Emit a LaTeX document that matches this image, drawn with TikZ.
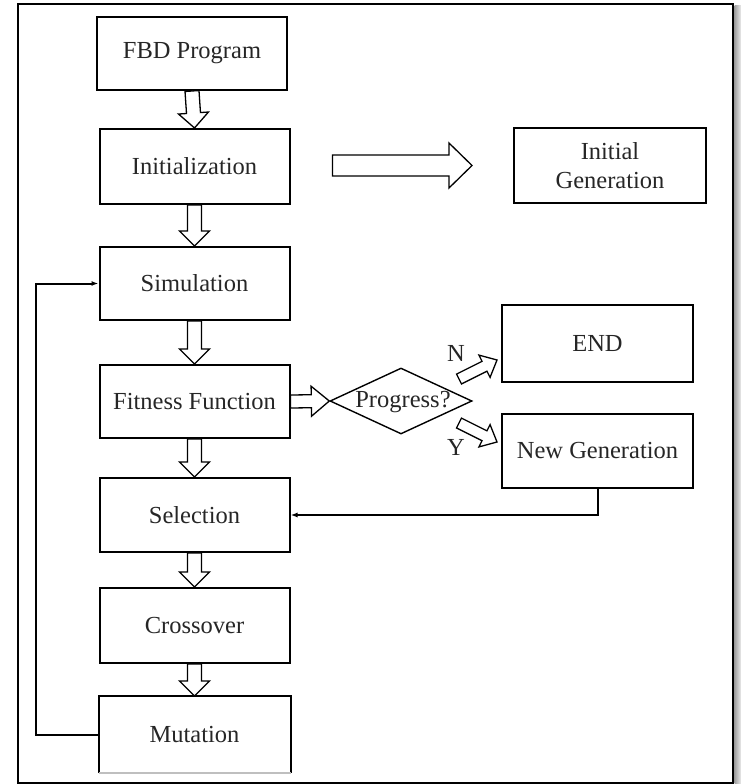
\documentclass[tikz,border=0pt]{standalone}
\usepackage{fontspec}
\setmainfont{Liberation Serif}
\usetikzlibrary{calc,shapes.geometric,arrows.meta}

% Hollow block arrow: tail, tip, shaft half-width, head half-width, head length
\newcommand\blockarrow[5]{%
  \coordinate (hb) at ($(#2)!#5!(#1)$);
  \draw[blockline] ($(#1)!#3!90:(#2)$) -- ($(hb)!#3!-90:(#1)$)
    -- ($(hb)!#4!-90:(#1)$) -- (#2) -- ($(hb)!#4!90:(#1)$)
    -- ($(hb)!#3!90:(#1)$) -- ($(#1)!#3!-90:(#2)$) -- cycle;}

\begin{document}
\begin{tikzpicture}[x=1pt,y=-1pt,
  every node/.style={font=\fontsize{24.5}{29}\selectfont, text=black!85},
  stepbox/.style={draw, line width=2pt, minimum width=190pt, minimum height=74pt,
    inner sep=0pt, align=center},
  blockline/.style={draw, fill=white, line width=1.3pt, line join=miter},
  link/.style={line width=2pt, -{Latex[length=7pt,width=5pt]}}]

\useasboundingbox (0,0) rectangle (741,784);

% drop shadow and frame
\shade[left color=gray!75, right color=gray!15] (734.5,6) rectangle (741,784);
\draw[line width=1.8pt] (18,4) rectangle (733,783);

% main column
\node[stepbox, minimum height=73pt] (fbd)  at (192,53.5)   {FBD Program};
\node[stepbox, minimum height=75pt] (init) at (194.5,166.5) {Initialization};
\node[stepbox, minimum height=73pt] (sim)  at (194.5,283.5) {Simulation};
\node[stepbox, minimum height=73pt] (fit)  at (194.5,401.5) {Fitness Function};
\node[stepbox] (sel)   at (194.5,515)   {Selection};
\node[stepbox, minimum height=75pt] (cross) at (194.5,625.5) {Crossover};
\node[stepbox, draw=none, minimum height=75pt] (mut) at (194.5,734.5) {Mutation};
\draw[line width=2pt] (mut.south west) -- (mut.north west) -- (mut.north east) -- (mut.south east);
\draw[line width=1.6pt, gray!50] (mut.south west) -- (mut.south east);

% right side
\node[stepbox, minimum width=192pt, minimum height=75pt] (initgen) at (610,165.5) {Initial\\Generation};
\node[stepbox, minimum width=191pt, minimum height=77pt] (endn) at (597.5,343.5) {END};
\node[stepbox, minimum width=191pt] (newgen) at (597.5,451) {New Generation};

% decision
\node[diamond, draw, line width=1.4pt, minimum width=142pt, minimum height=66pt,
  inner sep=0pt] (prog) at (401,401) {};
\node (progtxt) at (403,402) {Progress?};

% hollow arrows down the column
\blockarrow{fbd.south}{init.north}{7pt}{15pt}{15pt}
\blockarrow{init.south}{sim.north}{7pt}{15pt}{15pt}
\blockarrow{sim.south}{fit.north}{7pt}{15pt}{15pt}
\blockarrow{fit.south}{sel.north}{7pt}{15pt}{15pt}
\blockarrow{sel.south}{cross.north}{7pt}{15pt}{15pt}
\blockarrow{cross.south}{mut.north}{7pt}{15pt}{15pt}

% initialization to initial generation
\coordinate (igA) at ($(init.east)+(42,-1)$);
\coordinate (igB) at ($(initgen.west)+(-41,0)$);
\blockarrow{igA}{igB}{10.5pt}{22.5pt}{23pt}

% fitness to decision
\blockarrow{fit.east}{prog.west}{6.5pt}{15pt}{18pt}

% decision outcomes
\coordinate (nA) at (459,379);
\coordinate (nB) at (497,360);
\coordinate (yA) at (459,423);
\coordinate (yB) at (497,442);
\blockarrow{nA}{nB}{5.5pt}{12.5pt}{14pt}
\blockarrow{yA}{yB}{5.5pt}{12.5pt}{14pt}
\node (nlab) at (456,353) {N};
\node (ylab) at (456,447) {Y};

% feedback connectors
\draw[link] (newgen.south) |- (sel.east);
\draw[link] (mut.west) -- ++(-63,0) |- (sim.west);

\end{tikzpicture}
\end{document}
